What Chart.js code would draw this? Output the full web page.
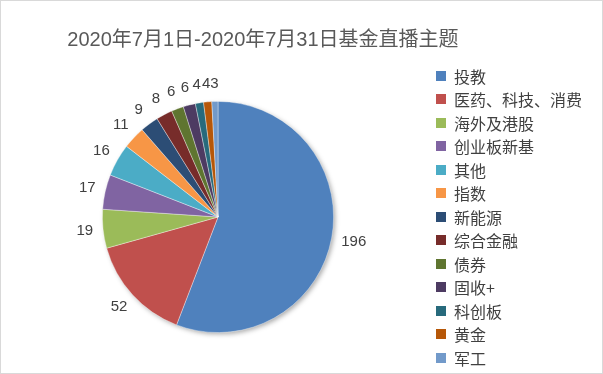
<!DOCTYPE html>
<html>
<head>
<meta charset="utf-8">
<script src="https://cdn.jsdelivr.net/npm/chart.js@4/dist/chart.umd.min.js"></script>
<style>
  html, body { margin: 0; padding: 0; background: #fff; }
  #wrap { position: relative; width: 603px; height: 374px; box-sizing: border-box; border: 1px solid #d9d9d9; overflow: hidden; }
  #c { position: absolute; left: 0; top: 0; }
  #title { position: absolute; left: 0; top: 24px; width: 524px; text-align: center;
    font-family: "Liberation Sans", "Noto Sans CJK SC", sans-serif; font-size: 20px; line-height: 28px; color: #595959; white-space: nowrap; }
  #legend { position: absolute; left: 435px; top: 63px; margin: 0; padding: 0; list-style: none; }
  #legend li { height: 23.5px; display: flex; align-items: center; font-family: "Noto Sans CJK SC", sans-serif; font-size: 16px; color: #404040; white-space: nowrap; }
  #legend .box { width: 10px; height: 10px; margin-right: 8px; flex: none; }
</style>
</head>
<body>
<div id="wrap">
  <canvas id="c" width="603" height="374"></canvas>
  <div id="title"></div>
  <ul id="legend"></ul>
</div>
<script>
const titleText = "2020年7月1日-2020年7月31日基金直播主题";
const categories = ["投教", "医药、科技、消费", "海外及港股", "创业板新基", "其他", "指数", "新能源", "综合金融", "债券", "固收+", "科创板", "黄金", "军工"];
const counts = [196, 52, 19, 17, 16, 11, 9, 8, 6, 6, 4, 4, 3];
const sliceColors = ["#4F81BD", "#C0504D", "#9BBB59", "#8064A2", "#4BACC6", "#F79646", "#2C4D75", "#772C2A", "#5F7530", "#4D3B62", "#276A7C", "#B65708", "#729ACA"];

document.getElementById('title').textContent = titleText;

const shadowPlugin = {
  id: 'pieShadow',
  beforeDatasetsDraw(chart) {
    const arc = chart.getDatasetMeta(0).data[0];
    if (!arc) return;
    const ctx = chart.ctx;
    ctx.save();
    ctx.shadowColor = 'rgba(0,0,0,0.35)';
    ctx.shadowBlur = 5;
    ctx.shadowOffsetX = 2;
    ctx.shadowOffsetY = 2;
    ctx.beginPath();
    ctx.arc(arc.x, arc.y, arc.outerRadius - 0.5, 0, Math.PI * 2);
    ctx.fillStyle = '#ffffff';
    ctx.fill();
    ctx.restore();
  }
};

const valueLabels = {
  id: 'valueLabels',
  afterDatasetsDraw(chart) {
    const ctx = chart.ctx;
    const meta = chart.getDatasetMeta(0);
    const ds = chart.data.datasets[0];
    ctx.save();
    ctx.font = '15px "Liberation Sans", sans-serif';
    ctx.fillStyle = '#404040';
    ctx.textAlign = 'center';
    ctx.textBaseline = 'middle';
    meta.data.forEach((arc, i) => {
      const mid = (arc.startAngle + arc.endAngle) / 2;
      const dx = Math.cos(mid), dy = Math.sin(mid);
      const txt = String(ds.data[i]);
      const w = ctx.measureText(txt).width;
      const r = arc.outerRadius + 18 + Math.abs(dx) * Math.max(0, w / 2 - 8);
      ctx.fillText(txt, arc.x + dx * r, arc.y + dy * r);
    });
    ctx.restore();
  }
};

const chart = new Chart(document.getElementById('c'), {
  type: 'pie',
  data: {
    labels: categories,
    datasets: [{
      data: counts,
      backgroundColor: sliceColors,
      borderColor: 'rgba(255,255,255,0.45)',
      borderWidth: 0.8
    }]
  },
  options: {
    responsive: false,
    animation: false,
    layout: { padding: { left: 101, right: 270, top: 100, bottom: 42 } },
    plugins: {
      legend: { display: false },
      title: { display: false },
      tooltip: { enabled: false }
    }
  },
  plugins: [shadowPlugin, valueLabels]
});

const ul = document.getElementById('legend');
chart.options.plugins.legend.labels.generateLabels(chart).forEach(item => {
  const li = document.createElement('li');
  const box = document.createElement('span');
  box.className = 'box';
  box.style.background = item.fillStyle;
  const t = document.createElement('span');
  t.textContent = item.text;
  li.appendChild(box);
  li.appendChild(t);
  ul.appendChild(li);
});
</script>
</body>
</html>
